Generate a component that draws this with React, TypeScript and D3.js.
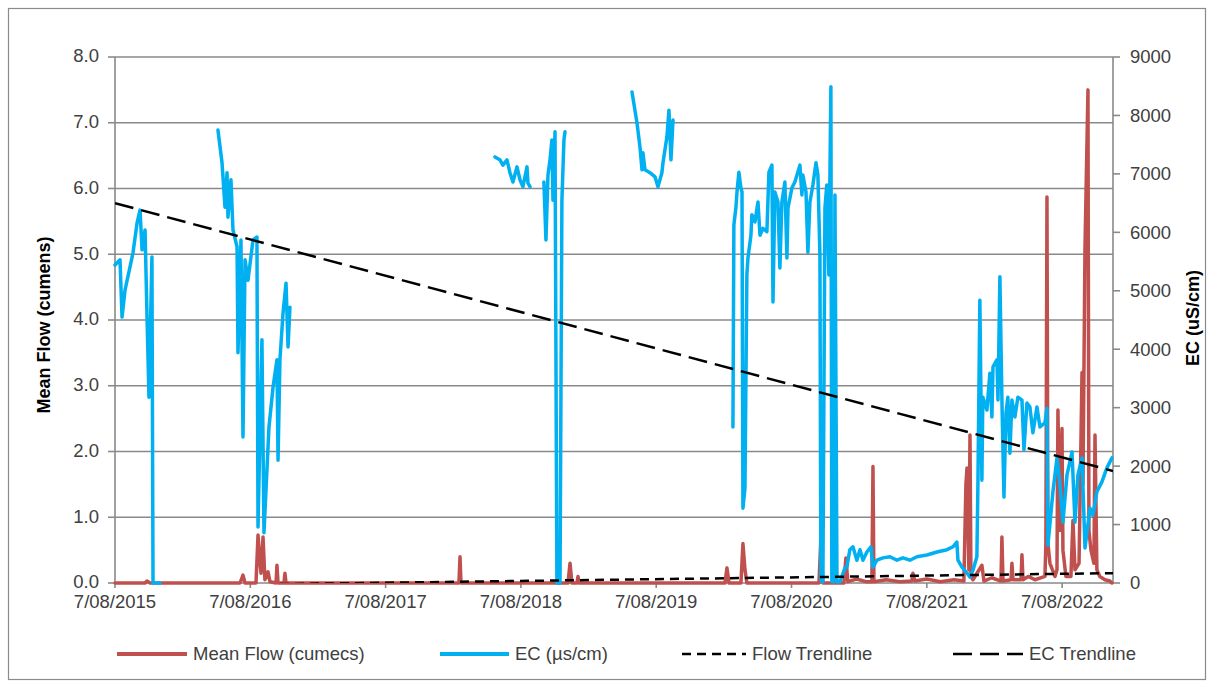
import React from "react";
import * as d3 from "d3";

// ---------- data ----------
// x values are decimal years (7/08/2015 = 2015.6)
const dateTicks = [2015.6, 2016.6, 2017.6, 2018.6, 2019.6, 2020.6, 2021.6, 2022.6];
const dateTickLabels = ["7/08/2015", "7/08/2016", "7/08/2017", "7/08/2018", "7/08/2019", "7/08/2020", "7/08/2021", "7/08/2022"];
const flowTicks = [0, 1, 2, 3, 4, 5, 6, 7, 8];
const ecTicks = [0, 1000, 2000, 3000, 4000, 5000, 6000, 7000, 8000, 9000];

// EC (µS/cm); null = gap in record
const ecSeries: [number, number | null][] = [
  [2015.600, 5440], [2015.637, 5530], [2015.652, 4550], [2015.674, 5010], [2015.711, 5410], [2015.733, 5650],
  [2015.763, 6160], [2015.785, 6380], [2015.800, 5700], [2015.822, 6040], [2015.836, 4620], [2015.851, 3180],
  [2015.873, 5580], [2015.881, 0], [2015.933, 0],
  [2016.0, null],
  [2016.361, 7750], [2016.391, 7190], [2016.413, 6430], [2016.428, 7020], [2016.435, 6260], [2016.457, 6900],
  [2016.472, 6040], [2016.502, 5750], [2016.509, 3940], [2016.531, 5870], [2016.546, 2500], [2016.561, 5530],
  [2016.583, 5180], [2016.620, 5870], [2016.649, 5920], [2016.657, 960], [2016.686, 4160], [2016.701, 860],
  [2016.723, 1930], [2016.738, 2670], [2016.768, 3350], [2016.797, 3820], [2016.805, 2100], [2016.819, 3820],
  [2016.842, 4620], [2016.864, 5130], [2016.879, 4040], [2016.893, 4720],
  [2017.5, null],
  [2018.408, 7290], [2018.445, 7240], [2018.467, 7150], [2018.497, 7240], [2018.519, 7020], [2018.541, 6860],
  [2018.571, 7120], [2018.593, 6900], [2018.615, 6780], [2018.645, 7120], [2018.652, 6840], [2018.667, 6780],
  [2018.72, null],
  [2018.770, 6860], [2018.785, 5870], [2018.800, 6980], [2018.815, 7240], [2018.829, 7580], [2018.837, 6550],
  [2018.852, 7720], [2018.866, 0], [2018.889, 0], [2018.903, 6550], [2018.918, 7580], [2018.926, 7720],
  [2019.2, null],
  [2019.421, 8400], [2019.458, 7870], [2019.480, 7460], [2019.495, 7070], [2019.502, 7360], [2019.517, 7070],
  [2019.554, 7020], [2019.591, 6950], [2019.613, 6780], [2019.642, 7020], [2019.650, 7190], [2019.679, 7630],
  [2019.694, 8090], [2019.709, 7240], [2019.724, 7920],
  [2019.9, null],
  [2020.167, 2670], [2020.174, 6130], [2020.189, 6420], [2020.197, 6690], [2020.211, 7030], [2020.226, 6760],
  [2020.234, 6690], [2020.241, 1280], [2020.256, 1630], [2020.270, 5270], [2020.278, 5560], [2020.300, 5950],
  [2020.307, 6300], [2020.330, 6180], [2020.352, 6520], [2020.367, 5950], [2020.389, 6070], [2020.418, 6010],
  [2020.433, 7030], [2020.455, 7150], [2020.463, 4810], [2020.477, 6690], [2020.500, 6520], [2020.514, 5390],
  [2020.529, 6520], [2020.551, 6860], [2020.566, 5560], [2020.574, 6420], [2020.603, 6760], [2020.625, 6860],
  [2020.662, 7150], [2020.677, 6640], [2020.684, 6980], [2020.707, 6690], [2020.721, 5660], [2020.736, 6520],
  [2020.758, 6810], [2020.781, 7190], [2020.795, 6980], [2020.810, 5610], [2020.817, 50], [2020.832, 20],
  [2020.847, 6420], [2020.861, 6810], [2020.876, 5270], [2020.891, 8490], [2020.898, 20], [2020.913, 20],
  [2020.921, 6640], [2020.936, 20], [2020.958, 20], [2020.995, 260], [2021.009, 270], [2021.031, 570],
  [2021.054, 620], [2021.083, 390], [2021.106, 570], [2021.128, 390], [2021.157, 530], [2021.187, 620],
  [2021.202, 270], [2021.231, 390], [2021.276, 430], [2021.327, 450], [2021.379, 390], [2021.423, 430],
  [2021.475, 390], [2021.527, 450], [2021.601, 480], [2021.675, 530], [2021.749, 570], [2021.793, 620],
  [2021.822, 700], [2021.830, 390], [2021.860, 270], [2021.897, 170], [2021.919, 100], [2021.941, 220],
  [2021.970, 450], [2021.978, 1760], [2021.992, 4840], [2022.007, 1760], [2022.014, 3180], [2022.044, 2960],
  [2022.066, 3590], [2022.081, 2840], [2022.089, 3700], [2022.118, 3820], [2022.126, 3130], [2022.140, 5240],
  [2022.155, 3130], [2022.170, 1470], [2022.185, 2910], [2022.199, 3180], [2022.214, 2220], [2022.229, 3130],
  [2022.251, 2840], [2022.273, 3180], [2022.303, 3130], [2022.318, 2280], [2022.340, 3080], [2022.362, 3010],
  [2022.384, 2570], [2022.414, 3010], [2022.436, 2670], [2022.473, 2740], [2022.488, 2990], [2022.495, 650],
  [2022.532, 1560], [2022.562, 2140], [2022.584, 1680], [2022.606, 1040], [2022.636, 1850], [2022.673, 2240],
  [2022.695, 1040], [2022.717, 1850], [2022.747, 2140], [2022.769, 600], [2022.806, 1280], [2022.828, 1160],
  [2022.857, 1560], [2022.894, 1730], [2022.931, 1970], [2022.968, 2140],
];

// Mean Flow (cumecs)
const flowSeries: [number, number][] = [
  [2015.600, 0], [2015.822, 0], [2015.836, 0.03], [2015.859, 0], [2016.524, 0], [2016.546, 0.12], [2016.561, 0],
  [2016.642, 0], [2016.657, 0.73], [2016.672, 0.3], [2016.679, 0.15], [2016.694, 0.7], [2016.708, 0.05],
  [2016.731, 0.17], [2016.745, 0.02], [2016.790, 0], [2016.797, 0.27], [2016.805, 0], [2016.849, 0],
  [2016.856, 0.15], [2016.864, 0], [2018.142, 0], [2018.150, 0.4], [2018.157, 0], [2018.948, 0],
  [2018.963, 0.3], [2018.977, 0], [2019.014, 0], [2019.022, 0.1], [2019.029, 0], [2020.108, 0],
  [2020.123, 0.23], [2020.138, 0], [2020.226, 0], [2020.241, 0.6], [2020.256, 0.2], [2020.270, 0],
  [2020.803, 0], [2020.817, 0.68], [2020.832, 0], [2020.987, 0], [2021.002, 0.38], [2021.016, 0.02],
  [2021.08, 0.06], [2021.15, 0.02], [2021.194, 0.02], [2021.202, 1.77], [2021.209, 0.02], [2021.3, 0.05],
  [2021.4, 0.02], [2021.489, 0.03], [2021.497, 0.15], [2021.512, 0.03], [2021.6, 0.06], [2021.7, 0.02],
  [2021.8, 0.05], [2021.874, 0.03], [2021.889, 1.5], [2021.897, 1.75], [2021.911, 0.2], [2021.919, 2.25],
  [2021.926, 0.1], [2021.941, 0.05], [2022.007, 0.27], [2022.022, 0.03], [2022.08, 0.08], [2022.148, 0.03],
  [2022.155, 0.7], [2022.163, 0.03], [2022.222, 0.05], [2022.229, 0.3], [2022.237, 0.05], [2022.296, 0.05],
  [2022.303, 0.43], [2022.311, 0.05], [2022.35, 0.1], [2022.399, 0.05], [2022.473, 0.1], [2022.480, 0.6],
  [2022.488, 5.87], [2022.495, 0.6], [2022.510, 0.3], [2022.547, 0.1], [2022.562, 0.2], [2022.569, 2.63],
  [2022.584, 0.8], [2022.599, 2.35], [2022.606, 0.5], [2022.628, 0.1], [2022.665, 0.1], [2022.680, 0.95],
  [2022.695, 0.2], [2022.725, 0.3], [2022.747, 3.2], [2022.754, 1.5], [2022.769, 5.1], [2022.791, 7.5],
  [2022.798, 0.8], [2022.813, 0.5], [2022.835, 0.3], [2022.843, 2.25], [2022.857, 0.2], [2022.879, 0.1],
  [2022.916, 0.05], [2022.953, 0.03], [2022.968, 0],
];

// Linear trendlines (start / end of record)
const flowTrend: [number, number][] = [[2015.6, -0.05], [2022.976, 0.15]];
const ecTrend: [number, number][] = [[2015.6, 6500], [2022.976, 1916]];

const legendItems = [
  { label: "Mean Flow (cumecs)", color: "#C0504D", dash: "", width: 4 },
  { label: "EC (µs/cm)", color: "#00B0F0", dash: "", width: 4 },
  { label: "Flow Trendline", color: "#000000", dash: "9,6", width: 2.5 },
  { label: "EC Trendline", color: "#000000", dash: "19,8", width: 2.5 },
];

// ---------- layout ----------
const W = 1214, H = 688;
const PL = 115, PR = 1113, PT = 57, PB = 583;
const GRID = "#898989";
const FONT = "'Liberation Sans', Arial, sans-serif";
const TXT = "#404040";

export default function App() {
  const x = d3.scaleLinear().domain([2015.6, 2022.976]).range([PL, PR]);
  const yF = d3.scaleLinear().domain([0, 8]).range([PB, PT]);
  const yE = d3.scaleLinear().domain([0, 9000]).range([PB, PT]);

  const ecLine = d3
    .line<[number, number | null]>()
    .defined((d) => d[1] !== null)
    .x((d) => x(d[0]))
    .y((d) => yE(d[1] as number));
  const flowLine = d3.line<[number, number]>().x((d) => x(d[0])).y((d) => yF(d[1]));
  const ecTrendLine = d3.line<[number, number]>().x((d) => x(d[0])).y((d) => yE(d[1]));

  const legendX = [117, 440, 682, 953];
  const legendLen = [70, 69, 64, 70];
  const legendY = 654;

  return (
    <svg
      width={W}
      height={H}
      style={{ position: "absolute", left: 0, top: 0, background: "#fff" }}
      fontFamily={FONT}
    >
      <defs>
        <clipPath id="plotClip">
          <rect x={PL} y={PT} width={PR - PL} height={PB - PT} />
        </clipPath>
      </defs>
      <rect x={8.5} y={8.5} width={W - 17} height={H - 17} fill="#fff" stroke="#8a8a8a" strokeWidth={1.2} />

      {/* gridlines */}
      {flowTicks.filter((t) => t > 0).map((t) => (
        <line key={"g" + t} x1={PL} x2={PR} y1={yF(t)} y2={yF(t)} stroke={GRID} strokeWidth={1.6} />
      ))}

      {/* axes */}
      <line x1={PL} x2={PL} y1={PT} y2={PB} stroke={GRID} strokeWidth={1.6} />
      <line x1={PR} x2={PR} y1={PT} y2={PB} stroke={GRID} strokeWidth={1.6} />
      <line x1={PL} x2={PR} y1={PB} y2={PB} stroke={GRID} strokeWidth={1.6} />

      {/* left ticks */}
      {flowTicks.map((t) => (
        <g key={"lt" + t}>
          <line x1={PL - 7} x2={PL} y1={yF(t)} y2={yF(t)} stroke={GRID} strokeWidth={1.6} />
          <text x={99} y={yF(t) - 1} dy="0.35em" textAnchor="end" fontSize={18.5} fill={TXT}>
            {t.toFixed(1)}
          </text>
        </g>
      ))}
      {/* right ticks */}
      {ecTicks.map((t) => (
        <g key={"rt" + t}>
          <line x1={PR} x2={PR + 7} y1={yE(t)} y2={yE(t)} stroke={GRID} strokeWidth={1.6} />
          <text x={1130} y={yE(t)} dy="0.35em" textAnchor="start" fontSize={18.5} fill={TXT}>
            {t}
          </text>
        </g>
      ))}
      {/* x ticks */}
      {dateTicks.map((t, i) => (
        <g key={"xt" + t}>
          <line x1={x(t)} x2={x(t)} y1={PB} y2={PB + 5} stroke={GRID} strokeWidth={1.6} />
          <text x={x(t)} y={608} textAnchor="middle" fontSize={18.5} fill={TXT}>
            {dateTickLabels[i]}
          </text>
        </g>
      ))}

      {/* axis titles */}
      <text
        transform="translate(50,325) rotate(-90)"
        textAnchor="middle"
        fontSize={18}
        fontWeight="bold"
        fill="#000"
      >
        Mean Flow (cumens)
      </text>
      <text
        transform="translate(1199,318) rotate(-90)"
        textAnchor="middle"
        fontSize={18}
        fontWeight="bold"
        fill="#000"
      >
        EC (uS/cm)
      </text>

      {/* series */}
      <path
        d={flowLine(flowSeries) || ""}
        fill="none"
        stroke="#C0504D"
        strokeWidth={3.5}
        strokeLinejoin="round"
        strokeLinecap="round"
      />
      <path
        d={ecLine(ecSeries) || ""}
        fill="none"
        stroke="#00B0F0"
        strokeWidth={3.5}
        strokeLinejoin="round"
        strokeLinecap="round"
      />

      {/* trendlines */}
      <g clipPath="url(#plotClip)">
        <path d={flowLine(flowTrend) || ""} fill="none" stroke="#000" strokeWidth={2.5} strokeDasharray="9,6" />
        <path d={ecTrendLine(ecTrend) || ""} fill="none" stroke="#000" strokeWidth={2.5} strokeDasharray="19,8" />
      </g>

      {/* legend */}
      {legendItems.map((it, i) => (
        <g key={"lg" + i}>
          <line
            x1={legendX[i]}
            x2={legendX[i] + legendLen[i]}
            y1={legendY}
            y2={legendY}
            stroke={it.color}
            strokeWidth={it.width}
            strokeDasharray={it.dash || undefined}
          />
          <text x={legendX[i] + legendLen[i] + 6} y={legendY} dy="0.35em" fontSize={18.5} fill={TXT}>
            {it.label}
          </text>
        </g>
      ))}
    </svg>
  );
}
